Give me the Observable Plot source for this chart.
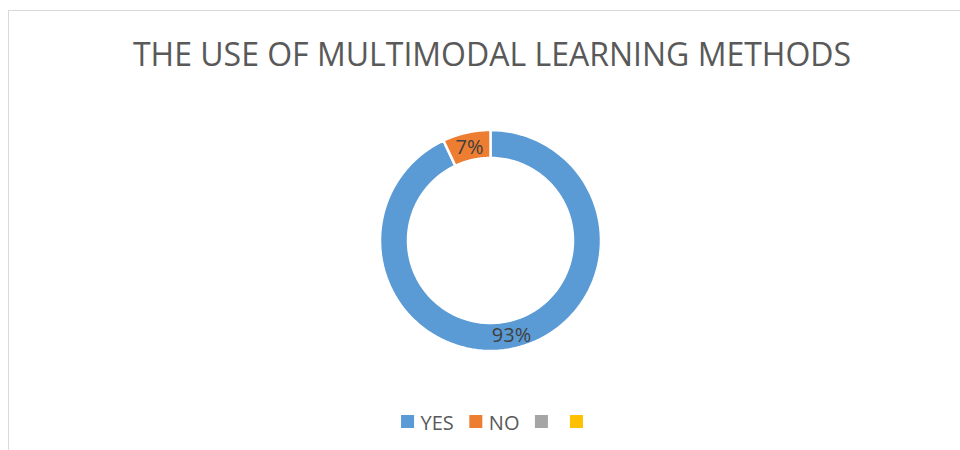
<!DOCTYPE html>
<html>
<head>
<meta charset="utf-8">
<script src="https://cdn.jsdelivr.net/npm/d3@7"></script>
<script src="https://cdn.jsdelivr.net/npm/@observablehq/plot@0.6"></script>
<style>
  html, body { margin: 0; padding: 0; background: #fff; overflow: hidden; }
  #wrap { position: relative; width: 960px; height: 450px; overflow: hidden; }
  #border { position: absolute; left: 8px; top: 10px; width: 1000px; height: 500px;
            border: 1.5px solid #d9d9d9; box-sizing: border-box; }
  #chart { position: absolute; left: 0; top: 0; }
</style>
</head>
<body>
<div id="wrap"><div id="border"></div><div id="chart"></div></div>
<script>
// ---- data ----
const title = "THE USE OF MULTIMODAL LEARNING METHODS";
const categories = ["YES", "NO"];
const values = [93, 7];
const sliceColors = ["#5B9BD5", "#ED7D31"];
const legendLabels = ["YES", "NO", "", ""];
const legendColors = ["#5B9BD5", "#ED7D31", "#A5A5A5", "#FFC000"];

// ---- layout ----
const W = 960, H = 450;
const cx = 490, cy = 240, rOuter = 110.5, rInner = 82.5;
const font = "'Open Sans', 'Liberation Sans', sans-serif";

const total = d3.sum(values);
const pie = d3.pie().sort(null).value(d => d.value)(categories.map((c, i) => ({cat: c, value: values[i], color: sliceColors[i]})));

// polygon points for each ring slice
const ringPts = [];
pie.forEach(s => {
  const n = 120;
  const pts = [];
  for (let k = 0; k <= n; k++) {
    const a = s.startAngle + (s.endAngle - s.startAngle) * k / n;
    pts.push([cx + rOuter * Math.sin(a), cy - rOuter * Math.cos(a)]);
  }
  for (let k = n; k >= 0; k--) {
    const a = s.startAngle + (s.endAngle - s.startAngle) * k / n;
    pts.push([cx + rInner * Math.sin(a), cy - rInner * Math.cos(a)]);
  }
  pts.push(pts[0]);
  pts.forEach(p => ringPts.push({x: p[0], y: p[1], cat: s.data.cat, color: s.data.color}));
});

// slice labels at mid-angle of the ring
const rMid = (rOuter + rInner) / 2;
const labels = pie.map(s => {
  const a = (s.startAngle + s.endAngle) / 2;
  return {x: cx + rMid * Math.sin(a), y: cy - rMid * Math.cos(a) + 7.5,
          text: Math.round(s.data.value / total * 100) + "%"};
});

// legend layout
const ctx = document.createElement("canvas").getContext("2d");
const legendFont = 20;
ctx.font = legendFont + "px " + font;
const sq = 13, gapText = 6, gapItem = 16;
const widths = legendLabels.map(l => sq + gapText + (l ? ctx.measureText(l).width : 0) + gapItem);
const legendTotal = d3.sum(widths) - gapItem - gapText;
let lx = 492 - legendTotal / 2;
const legend = legendLabels.map((l, i) => {
  const item = {x: lx, label: l, color: legendColors[i]};
  lx += widths[i];
  return item;
});
const legendTop = 415;

const chart = Plot.plot({
  width: W, height: H,
  margin: 0,
  x: {domain: [0, W], range: [0, W], axis: null},
  y: {domain: [0, H], range: [0, H], axis: null},
  style: {fontFamily: font, background: "transparent"},
  marks: [
    Plot.text([title], {x: () => 491.5, y: () => 65, text: d => d, lineAnchor: "bottom",
      fontSize: 32, fill: "#595959", textAnchor: "middle"}),
    Plot.line(ringPts, {x: "x", y: "y", z: "cat", fill: "color", stroke: "white",
      strokeWidth: 2.5, curve: "linear"}),
    Plot.text(labels, {x: "x", y: "y", text: "text", lineAnchor: "bottom",
      fontSize: 20, fill: "#404040"}),
    Plot.rect(legend, {x1: d => d.x, x2: d => d.x + sq, y1: () => legendTop, y2: () => legendTop + sq,
      fill: "color"}),
    Plot.text(legend.filter(d => d.label), {x: d => d.x + sq + gapText, y: () => legendTop + 14,
      text: "label", textAnchor: "start", lineAnchor: "bottom", fontSize: legendFont, fill: "#595959"})
  ]
});
document.getElementById("chart").appendChild(chart);
</script>
</body>
</html>
